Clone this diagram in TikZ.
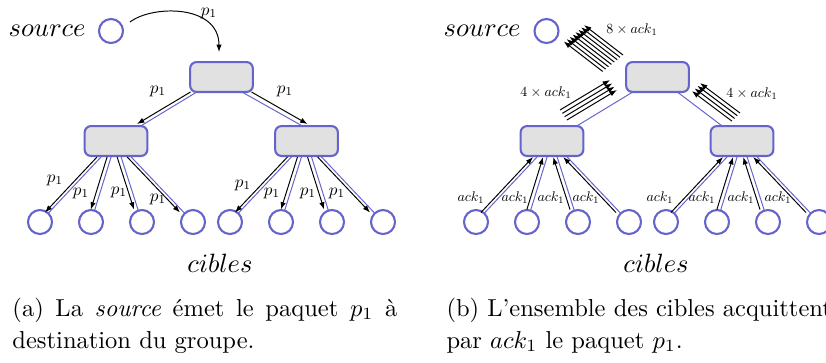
\RequirePackage{fix-cm}
\documentclass[tikz,border=0pt]{standalone}
\usetikzlibrary{arrows.meta,calc,backgrounds}
\definecolor{nodeblue}{RGB}{100,100,204}
\definecolor{boxgray}{RGB}{225,225,225}
\newcommand{\plb}[1]{\scalebox{0.7}{#1}}
\newcommand{\alb}[1]{\scalebox{0.57}{#1}}
\tikzset{
  box/.style={draw=nodeblue, fill=boxgray, line width=0.85pt, rounded corners=2.6pt,
    minimum width=25.6pt, minimum height=12.2pt, inner sep=0pt},
  leaf/.style={circle, draw=nodeblue, fill=white, line width=0.85pt, minimum size=9.8pt, inner sep=0pt},
  tree/.style={draw=nodeblue, line width=0.4pt},
  arr/.style={-{Latex[length=3pt,width=2.2pt]}, line width=0.4pt, draw=black},
  lab/.style={font=\fontsize{10}{12}\selectfont, inner sep=0pt},
  big/.style={font=\fontsize{10.8}{13}\selectfont, inner sep=0pt},
  captext/.style={font=\fontsize{10}{13}\selectfont, inner sep=0pt, anchor=base west},
}
\begin{document}
\begin{tikzpicture}[x=0.408pt,y=-0.408pt]
\useasboundingbox (0,0) rectangle (826,362);

% ---------------- panel (a)
\node[leaf] (sa) at (111,31) {};
\node[big, anchor=east] (srca) at (86,31) {$source$};
\node[box] (ra) at (221.5,77) {};
\node[box] (la) at (116,141) {};
\node[box] (ma) at (306.5,141) {};
\foreach \x [count=\i] in {40,91,142,193,230,281,332,383}
  \node[leaf] (a\i) at (\x,222) {};
\node[big, anchor=base] (ciba) at (220,272) {$cibles$};

\begin{scope}[on background layer]
  \draw[tree] (ra.center) -- (la.center);
  \draw[tree] ($(ra.center)+(8,8)$) -- ($(ma.center)+(3,-11)$);
  \foreach \i in {1,...,4} \draw[tree] (la.center) -- (a\i.center);
  \foreach \i in {5,...,8} \draw[tree] (ma.center) -- (a\i.center);
\end{scope}

\coordinate (ca) at ($(ra.north)+(-2.5,-9)$);
\draw[arr] ($(sa.center)+(19,-9)$) .. controls (152,5) and (219,4) .. (ca);
\node[lab] (pc) at (209,13) {\plb{$p_1$}};

\draw[arr] ($(ra.south)+(-31,-1)$) -- ($(la.north)+(21,-1)$);
\draw[arr] ($(ra.south)+(30,-1)$) -- ($(ma.north)+(1,-1)$);
\node[lab] (pl) at (158,91) {\plb{$p_1$}};
\node[lab] (pr) at (285,91) {\plb{$p_1$}};

\foreach \i in {1,...,4}
  \draw[arr, transform canvas={xshift=-1.63pt}] (la) -- (a\i);
\foreach \i in {5,...,8}
  \draw[arr, transform canvas={xshift=-1.63pt}] (ma) -- (a\i);
\foreach \x/\y [count=\i] in {55/180,81/193,119/192,158/199,243/185,272/193,308/193,337/193}
  \node[lab] (pa\i) at (\x,\y) {\plb{$p_1$}};

\node[captext] (capa1) at (12,316) {\makebox[157pt][s]{(a) La \emph{source} émet le paquet $p_1$ à}};
\node[captext] (capa2) at (12,348) {destination du groupe.};

% ---------------- panel (b)
\node[leaf] (sb) at (546.5,31) {};
\node[big, anchor=east] (srcb) at (521,31) {$source$};
\node[box] (rb) at (657.5,77) {};
\node[box] (lb) at (552,141) {};
\node[box] (mb) at (742,141) {};
\foreach \x [count=\i] in {476,527,578,629,666,717,768,819}
  \node[leaf] (b\i) at (\x,222) {};
\node[big, anchor=base] (cibb) at (656,272) {$cibles$};

\begin{scope}[on background layer]
  \draw[tree] (rb.center) -- (lb.center);
  \draw[tree] (rb.center) -- (mb.center);
  \foreach \i in {1,...,4} \draw[tree] (lb.center) -- (b\i.center);
  \foreach \i in {5,...,8} \draw[tree] (mb.center) -- (b\i.center);
\end{scope}

\foreach \i in {0,...,7}
  \draw[arr] ($(rb.center)+(-34.5-2.9*\i,-22+2.35*\i)$) -- ($(sb.center)+(37.5-2.9*\i,-6+2.35*\i)$);
\node[lab] (l8) at (632,30) {\alb{$8\times ack_1$}};

\foreach \i in {0,...,3}
  \draw[arr] ($(lb.center)+(8+2.3*\i,-31+3.33*\i)$) -- ($(rb.center)+(-47.5+2.3*\i,3+3.33*\i)$);
\node[lab] (l4l) at (546,93) {\alb{$4\times ack_1$}};

\foreach \i in {0,...,3}
  \draw[arr] ($(mb.center)+(-2-2.7*\i,-28+2.7*\i)$) -- ($(rb.center)+(42.5-2.7*\i,6+2.7*\i)$);
\node[lab] (l4r) at (752,94) {\alb{$4\times ack_1$}};

\foreach \i in {1,...,4}
  \draw[arr, transform canvas={xshift=-1.63pt}] (b\i) -- (lb);
\foreach \i in {5,...,8}
  \draw[arr, transform canvas={xshift=-1.63pt}] (b\i) -- (mb);
\foreach \x [count=\i] in {471,515,551,586,660,702,741,778}
  \node[lab] (ab\i) at (\x,198) {\alb{$ack_1$}};

\node[captext] (capb1) at (446,316) {(b) L'ensemble des cibles acquittent};
\node[captext] (capb2) at (446,348) {par $ack_1$ le paquet $p_1$.};
\end{tikzpicture}
\end{document}
